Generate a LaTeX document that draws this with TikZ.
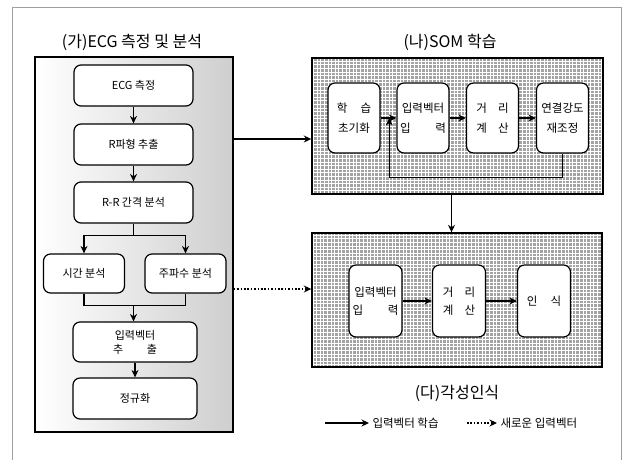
\documentclass[tikz,border=0pt]{standalone}
\usepackage{fontspec}
\setmainfont{Noto Sans CJK KR}
\usetikzlibrary{arrows.meta,calc}
\newcommand\spreadtxt[2][4em]{\makebox[#1][s]{#2}}
\begin{document}
\begin{tikzpicture}[x=1pt,y=-1pt,
  box/.style={draw=black, line width=1.2pt, rounded corners=7pt, fill=white, align=center, inner sep=1pt},
  lbox/.style={box, minimum width=119pt, minimum height=41pt, font=\fontsize{11}{14}\selectfont},
  sbox/.style={box, minimum width=81pt, minimum height=39pt, font=\fontsize{11}{14}\selectfont},
  rbox/.style={box, minimum width=52pt, minimum height=70pt, font=\fontsize{11.5}{20}\selectfont},
  bbox/.style={box, minimum width=53pt, minimum height=72pt, font=\fontsize{11.5}{18}\selectfont},
  panelL/.style={draw=black, line width=1.4pt, left color=white, right color=gray!38, minimum width=198pt, minimum height=375pt, inner sep=0pt},
  panelR/.style={draw=black, line width=1.4pt, fill=gray!72, minimum width=291pt, minimum height=136pt, inner sep=0pt,
     path picture={\draw[white, line width=0.8pt] (path picture bounding box.south west) grid[step=3.6pt] (path picture bounding box.north east);}},
  title/.style={font=\fontsize{16}{18}\selectfont},
  arr/.style={-{Stealth[length=7.5pt,width=7pt]}, line width=1.1pt, black},
  darr/.style={-{Stealth[length=7.5pt,width=7pt]}, line width=1.6pt, black, dash pattern=on 1.6pt off 1.8pt},
  ln/.style={line width=1.1pt, black},
]
\useasboundingbox (0,0) rectangle (623,459);
% outer frame
\draw[gray!75, line width=1pt] (12,465) -- (12,7) -- (621,7) -- (621,465);

% panels
\node[panelL] (pL) at (134,244.5) {};
\node[panelR] (pT) at (457.5,126) {};
\node[panelR, minimum width=290pt, minimum height=134pt] (pB) at (457,300) {};

% titles
\node[title] (tL) at (132,42) {(가)ECG 측정 및 분석};
\node[title] (tT) at (450,42) {(나)SOM 학습};
\node[title] (tB) at (457,393) {(다)각성인식};

% left boxes
\node[lbox] (e1) at (133.5,85.5) {ECG 측정};
\node[lbox] (e2) at (133.5,144.5) {R파형 추출};
\node[lbox] (e3) at (133.5,202.5) {R-R 간격 분석};
\node[sbox] (t1) at (84,273.5) {시간 분석};
\node[sbox] (t2) at (185.5,273.5) {주파수 분석};
\node[lbox, minimum width=124pt, minimum height=40pt] (e4) at (135,342) {입력벡터\\\spreadtxt[4em]{추\hfill 출}};
\node[lbox, minimum width=124pt] (e5) at (135,398.5) {정규화};

\draw[arr] (e1) -- (e2);
\draw[arr] (e2) -- (e3);
\draw[ln] (e3.south) -- ++(0,12) coordinate (sp);
\draw[arr] (sp) -| (t1.north);
\draw[arr] (sp) -| (t2.north);
\draw[ln] (t1.south) -- ++(0,12) coordinate (j1) -- (j1 -| t2.south) -- (t2.south);
\draw[arr] (j1 -| e3.south) -- (e3.south |- e4.north);
\draw[arr] (e4) -- (e5);

% top panel boxes
\node[rbox] (r1) at (354,118) {\spreadtxt[3em]{학\hfill 습}\\초기화};
\node[rbox] (r2) at (423,118) {입력벡터\\\spreadtxt[4em]{입\hfill 력}};
\node[rbox] (r3) at (492.5,118) {\spreadtxt[2.8em]{거\hfill 리}\\\spreadtxt[2.8em]{계\hfill 산}};
\node[rbox] (r4) at (562.5,118) {연결강도\\재조정};
\draw[arr] (r1) -- (r2);
\draw[arr] (r2) -- (r3);
\draw[arr] (r3) -- (r4);
\coordinate (fb) at ($(r1.east)!0.55!(r2.west)$);
\draw[arr] (r4.south) -- ++(0,24) -| (fb);

% bottom panel boxes
\node[bbox] (b1) at (375.5,301) {입력벡터\\\spreadtxt[4em]{입\hfill 력}};
\node[bbox] (b2) at (459,301) {\spreadtxt[2.8em]{거\hfill 리}\\\spreadtxt[2.8em]{계\hfill 산}};
\node[bbox] (b3) at (544,301) {\spreadtxt[3em]{인\hfill 식}};
\draw[arr] (b1) -- (b2);
\draw[arr] (b2) -- (b3);

% panel connectors
\path (pT.west) ++(0,13) coordinate (tin);
\draw[arr, line width=1.5pt] (pL.east |- tin) -- (tin);
\path (pB.west) ++(0,-11) coordinate (bin);
\draw[darr] (pL.east |- bin) -- (bin);
\path (pT.south) ++(-6,0) coordinate (dn);
\draw[arr] (dn) -- (dn |- pB.north);

% legend
\node[anchor=west, font=\fontsize{11.5}{14}\selectfont] (lg1) at (369,423) {입력벡터 학습};
\coordinate (ls1) at (325,423);
\draw[arr, line width=1.4pt] (ls1) -- (lg1.west);
\node[anchor=west, font=\fontsize{11.5}{14}\selectfont] (lg2) at (497,423) {새로운 입력벡터};
\coordinate (ls2) at (467,423);
\draw[darr] (ls2) -- (lg2.west);
\end{tikzpicture}
\end{document}
